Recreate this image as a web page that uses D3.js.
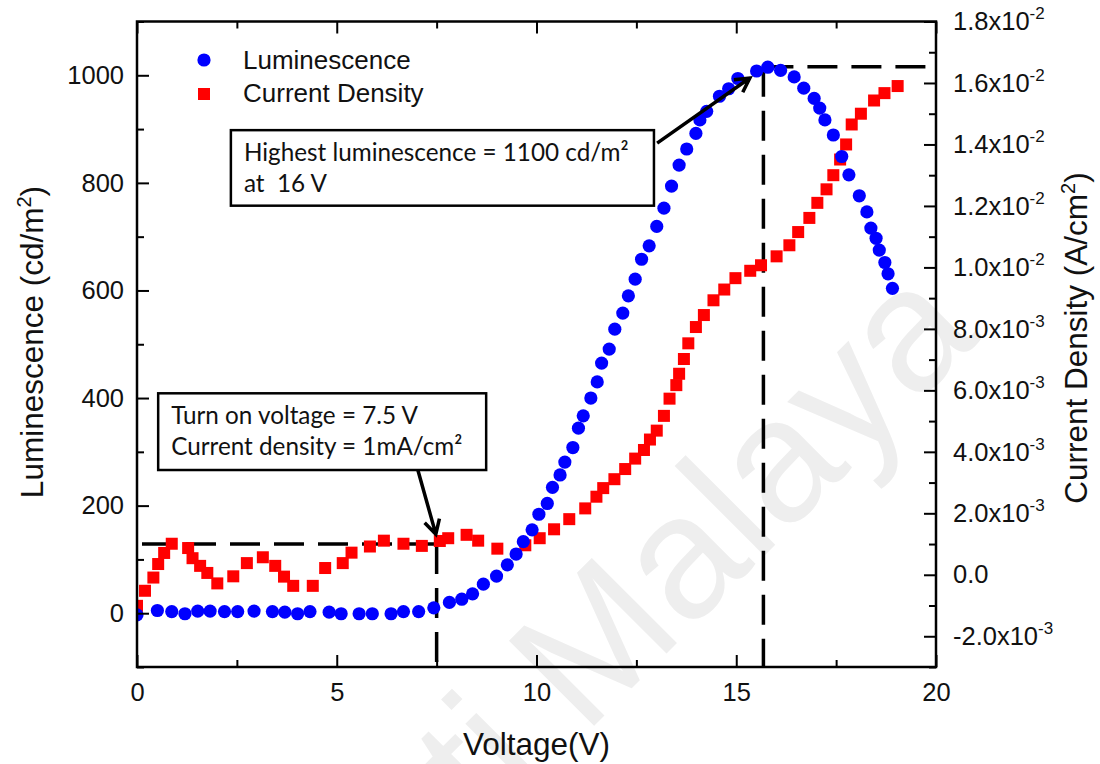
<!DOCTYPE html>
<html>
<head>
<meta charset="utf-8">
<script src="https://cdn.jsdelivr.net/npm/d3@7"></script>
<style>
  body { margin: 0; background: #fff; }
  svg { display: block; }
  text.note { white-space: pre; }
</style>
</head>
<body>
<svg id="chart" width="1100" height="764"></svg>
<script>
// Luminescence (cd/m^2) versus applied voltage (V)
const voltageL = [0, 0.51, 0.87, 1.20, 1.52, 1.83, 2.19, 2.52, 2.93, 3.39, 3.70, 4.02, 4.33, 4.81, 5.11, 5.56, 5.89, 6.36, 6.67, 7.05,
  7.43, 7.82, 8.13, 8.40, 8.67, 9.00, 9.27, 9.49, 9.67, 9.89, 10.06, 10.27, 10.40, 10.59, 10.71, 10.91, 11.05, 11.17, 11.36, 11.52,
  11.63, 11.82, 11.96, 12.16, 12.30, 12.47, 12.63, 12.82, 13.01, 13.19, 13.38, 13.57, 13.76, 13.99, 14.09, 14.26, 14.58, 14.81, 15.04, 15.51,
  15.79, 16.11, 16.45, 16.69, 16.95, 17.09, 17.22, 17.43, 17.64, 17.82, 18.08, 18.27, 18.37, 18.50, 18.58, 18.72, 18.80, 18.91];
const luminance = [-3, 5, 3, -1, 4, 4, 3, 3, 4, 3, 2, -1, 3, 2, -1, -1, -1, -1, 3, 3,
  10, 20, 26, 36, 54, 69, 90, 110, 133, 155, 184, 204, 234, 257, 281, 308, 344, 367, 400, 430,
  465, 491, 528, 558, 590, 621, 658, 683, 719, 753, 794, 833, 863, 892, 917, 933, 961, 975, 994, 1008,
  1015, 1009, 997, 976, 957, 939, 917, 889, 849, 815, 776, 746, 716, 697, 675, 652, 631, 604];

// Current density (mA/cm^2) versus applied voltage (V)
const voltageJ = [0, 0.20, 0.41, 0.53, 0.68, 0.87, 1.28, 1.39, 1.58, 1.76, 2.01, 2.41, 2.75, 3.15, 3.46, 3.68, 3.91, 4.40, 4.71, 5.15,
  5.37, 5.83, 6.18, 6.67, 7.13, 7.58, 7.79, 8.25, 8.54, 9.02, 9.72, 10.08, 10.44, 10.82, 11.22, 11.50, 11.67, 11.95, 12.22, 12.47,
  12.69, 12.84, 13.01, 13.19, 13.33, 13.50, 13.57, 13.69, 13.80, 13.99, 14.19, 14.43, 14.70, 14.98, 15.35, 15.62, 16.01, 16.33, 16.55, 16.83,
  17.03, 17.26, 17.43, 17.60, 17.75, 17.89, 18.12, 18.45, 18.71, 19.04];
const currentDensityMA = [-1.01, -0.52, -0.09, 0.35, 0.71, 1.01, 0.87, 0.54, 0.29, 0.06, -0.28, -0.05, 0.38, 0.57, 0.29, -0.06, -0.36, -0.36, 0.22, 0.38,
  0.72, 0.92, 1.11, 1.01, 0.94, 1.10, 1.19, 1.30, 1.11, 0.85, 0.96, 1.19, 1.48, 1.81, 2.16, 2.54, 2.82, 3.11, 3.44, 3.78,
  4.06, 4.40, 4.69, 5.17, 5.73, 6.17, 6.54, 7.02, 7.53, 8.06, 8.45, 8.93, 9.28, 9.65, 9.89, 10.07, 10.36, 10.72, 11.15, 11.61,
  12.10, 12.54, 13.00, 13.51, 14.00, 14.65, 15.00, 15.43, 15.67, 15.90];

// Axis ticks
const xTicks = [0, 5, 10, 15, 20];
const xMinorTicks = [2.5, 7.5, 12.5, 17.5];
const yLeftTicks = [0, 200, 400, 600, 800, 1000];
const yLeftMinorTicks = [-100, 100, 300, 500, 700, 900, 1100];
const yRightTicks = [-2e-3, 0, 2e-3, 4e-3, 6e-3, 8e-3, 1.0e-2, 1.2e-2, 1.4e-2, 1.6e-2, 1.8e-2];
const yRightMantissa = ["-2.0", "0.0", "2.0", "4.0", "6.0", "8.0", "1.0", "1.2", "1.4", "1.6", "1.8"];
const yRightExponent = ["-3", "", "-3", "-3", "-3", "-3", "-2", "-2", "-2", "-2", "-2"];
const yRightMinorTicks = [-3e-3, -1e-3, 1e-3, 3e-3, 5e-3, 7e-3, 9e-3, 1.1e-2, 1.3e-2, 1.5e-2, 1.7e-2];

// Reference markers: turn-on point and luminescence maximum
const turnOnVoltage = 7.5;
const turnOnCurrent = 1e-3;
const peakVoltage = 15.68;
const peakLuminance = 1016;

const plotLeft = 137, plotRight = 936, plotTop = 21.5, plotBottom = 667;
const FONT = "'Liberation Sans', Arial, sans-serif";

const svg = d3.select("#chart");
const x = d3.scaleLinear().domain([0, 20]).range([plotLeft, plotRight]);
const yL = d3.scaleLinear().domain([-100, 1100]).range([plotBottom, plotTop]);
const yR = d3.scaleLinear().domain([-3e-3, 18e-3]).range([plotBottom, plotTop]);

// faint institutional watermark behind the plot
const wm = svg.append("g")
  .attr("transform", "translate(584,736) rotate(-45)")
  .attr("fill", "#eeeeee")
  .attr("font-family", FONT)
  .attr("font-size", 175);
wm.append("text").attr("x", -48).attr("text-anchor", "end").text("ti");
wm.append("text").attr("x", 0).text("Malaya");

svg.append("defs").append("clipPath").attr("id", "plotArea")
  .append("rect").attr("x", plotLeft).attr("y", plotTop)
  .attr("width", plotRight - plotLeft).attr("height", plotBottom - plotTop);

// dashed guide lines
const dash = svg.append("g").attr("stroke", "#000").attr("stroke-width", 3.5)
  .attr("stroke-dasharray", "30,14").attr("fill", "none");
dash.append("line")
  .attr("x1", x(0) + 5).attr("x2", x(turnOnVoltage))
  .attr("y1", yR(turnOnCurrent)).attr("y2", yR(turnOnCurrent));
dash.append("line")
  .attr("x1", x(turnOnVoltage)).attr("x2", x(turnOnVoltage))
  .attr("y1", yR(turnOnCurrent)).attr("y2", plotBottom);
dash.append("line")
  .attr("x1", x(peakVoltage)).attr("x2", x(peakVoltage))
  .attr("y1", yL(peakLuminance)).attr("y2", plotBottom);
dash.append("line")
  .attr("x1", x(peakVoltage)).attr("x2", plotRight)
  .attr("y1", yL(peakLuminance)).attr("y2", yL(peakLuminance));

// data markers
const marks = svg.append("g").attr("clip-path", "url(#plotArea)");
const redSide = 12;
marks.append("g").selectAll("rect")
  .data(d3.zip(voltageJ, currentDensityMA))
  .join("rect")
  .attr("x", d => x(d[0]) - redSide / 2)
  .attr("y", d => yR(d[1] * 1e-3) - redSide / 2)
  .attr("width", redSide).attr("height", redSide)
  .attr("fill", "#ff0000");
marks.append("g").selectAll("circle")
  .data(d3.zip(voltageL, luminance))
  .join("circle")
  .attr("cx", d => x(d[0]))
  .attr("cy", d => yL(d[1]))
  .attr("r", 6.6)
  .attr("fill", "#0000ff");

// annotations (positioned in data units)
const noteFont = "Lato, 'Open Sans', sans-serif";
const notes = [
  { box: [2.35, 12.94, 898, 757.6], lines: ["Highest luminescence = 1100 cd/m²", "at  16 V"],
    arrow: [13.02, 874, 15.34, 995] },
  { box: [0.53, 8.74, 408.8, 266.2], lines: ["Turn on voltage = 7.5 V", "Current density = 1mA/cm²"],
    arrow: [7.03, 266.2, 7.48, 147] }
];
const noteG = svg.append("g");
let noteSize = 22;
notes.forEach((n, k) => {
  const bx0 = x(n.box[0]), bx1 = x(n.box[1]), by0 = yL(n.box[2]), by1 = yL(n.box[3]);
  noteG.append("rect")
    .attr("x", bx0).attr("y", by0).attr("width", bx1 - bx0).attr("height", by1 - by0)
    .attr("fill", "#fff").attr("stroke", "#000").attr("stroke-width", 2.5);
  n.lines.forEach((t, i) => {
    const el = noteG.append("text")
      .attr("class", "note")
      .attr("x", bx0 + 13).attr("y", by0 + 31 + i * 31)
      .attr("font-family", noteFont).attr("font-size", noteSize)
      .attr("fill", "#111").text(t);
    if (k === 0 && i === 0) {
      const w = el.node().getComputedTextLength();
      if (w > 0) noteSize = noteSize * 385 / w;
      el.attr("font-size", noteSize);
    }
  });
  // arrow shaft and open head
  const ax0 = x(n.arrow[0]), ay0 = yL(n.arrow[1]), ax1 = x(n.arrow[2]), ay1 = yL(n.arrow[3]);
  const ang = Math.atan2(ay1 - ay0, ax1 - ax0), hl = 16, ha = 0.5;
  noteG.append("path")
    .attr("d", `M${ax0},${ay0}L${ax1},${ay1}` +
      `M${ax1 - hl * Math.cos(ang - ha)},${ay1 - hl * Math.sin(ang - ha)}L${ax1},${ay1}` +
      `L${ax1 - hl * Math.cos(ang + ha)},${ay1 - hl * Math.sin(ang + ha)}`)
    .attr("fill", "none").attr("stroke", "#000").attr("stroke-width", 3.5)
    .attr("stroke-linejoin", "miter");
});
noteG.selectAll("text.note").attr("font-size", noteSize);

// axes
function styleAxis(g) {
  g.select(".domain").remove();
  g.selectAll(".tick line").attr("stroke", "#000").attr("stroke-width", 2);
  g.selectAll(".tick text").attr("font-family", FONT).attr("font-size", 25.5).attr("fill", "#111");
}
const TK = 12, TKm = 7;
svg.append("g").attr("transform", `translate(0,${plotBottom})`)
  .call(d3.axisBottom(x).tickValues(xTicks).tickSize(-TK).tickPadding(16).tickFormat(d3.format("d")))
  .call(styleAxis);
svg.append("g").attr("transform", `translate(0,${plotBottom})`)
  .call(d3.axisBottom(x).tickValues(xMinorTicks).tickSize(-TKm).tickFormat(""))
  .call(styleAxis);
svg.append("g").attr("transform", `translate(0,${plotTop})`)
  .call(d3.axisTop(x).tickValues(xTicks).tickSize(-TK).tickFormat(""))
  .call(styleAxis);
svg.append("g").attr("transform", `translate(0,${plotTop})`)
  .call(d3.axisTop(x).tickValues(xMinorTicks).tickSize(-TKm).tickFormat(""))
  .call(styleAxis);
svg.append("g").attr("transform", `translate(${plotLeft},0)`)
  .call(d3.axisLeft(yL).tickValues(yLeftTicks).tickSize(-TK).tickPadding(13).tickFormat(d3.format("d")))
  .call(styleAxis);
svg.append("g").attr("transform", `translate(${plotLeft},0)`)
  .call(d3.axisLeft(yL).tickValues(yLeftMinorTicks).tickSize(-TKm).tickFormat(""))
  .call(styleAxis);
const rAxis = svg.append("g").attr("transform", `translate(${plotRight},0)`)
  .call(d3.axisRight(yR).tickValues(yRightTicks).tickSize(-TK).tickPadding(17).tickFormat(""))
  .call(styleAxis);
rAxis.selectAll(".tick text").each(function (d, i) {
  const t = d3.select(this);
  t.text(null);
  if (yRightExponent[i]) {
    t.append("tspan").text(yRightMantissa[i] + "x10");
    t.append("tspan").attr("font-size", 17).attr("dy", -11).text(yRightExponent[i]);
  } else {
    t.append("tspan").text(yRightMantissa[i]);
  }
});
svg.append("g").attr("transform", `translate(${plotRight},0)`)
  .call(d3.axisRight(yR).tickValues(yRightMinorTicks).tickSize(-TKm).tickFormat(""))
  .call(styleAxis);

// plot frame
svg.append("rect")
  .attr("x", plotLeft).attr("y", plotTop)
  .attr("width", plotRight - plotLeft).attr("height", plotBottom - plotTop)
  .attr("fill", "none").attr("stroke", "#000").attr("stroke-width", 2.5);

// axis titles
const titleSize = 31.5;
svg.append("text")
  .attr("x", (plotLeft + plotRight) / 2).attr("y", 755)
  .attr("text-anchor", "middle").attr("font-family", FONT).attr("font-size", titleSize).attr("fill", "#111")
  .text("Voltage(V)");
const lt = svg.append("text")
  .attr("transform", "translate(43,342) rotate(-90)")
  .attr("text-anchor", "middle").attr("font-family", FONT).attr("font-size", titleSize).attr("fill", "#111");
lt.append("tspan").text("Luminescence (cd/m");
lt.append("tspan").attr("font-size", 20).attr("dy", -12).text("2");
lt.append("tspan").attr("dy", 12).text(")");
const rt = svg.append("text")
  .attr("transform", "translate(1087,338) rotate(-90)")
  .attr("text-anchor", "middle").attr("font-family", FONT).attr("font-size", titleSize).attr("fill", "#111");
rt.append("tspan").text("Current Density (A/cm");
rt.append("tspan").attr("font-size", 20).attr("dy", -12).text("2");
rt.append("tspan").attr("dy", 12).text(")");

// legend
const legend = svg.append("g").attr("font-family", FONT).attr("font-size", 26).attr("fill", "#111");
legend.append("circle").attr("cx", 204).attr("cy", 60).attr("r", 6.6).attr("fill", "#0000ff");
legend.append("text").attr("x", 243).attr("y", 69).text("Luminescence");
legend.append("rect").attr("x", 198).attr("y", 88).attr("width", 12).attr("height", 12).attr("fill", "#ff0000");
legend.append("text").attr("x", 243).attr("y", 102).text("Current Density");
</script>
</body>
</html>
